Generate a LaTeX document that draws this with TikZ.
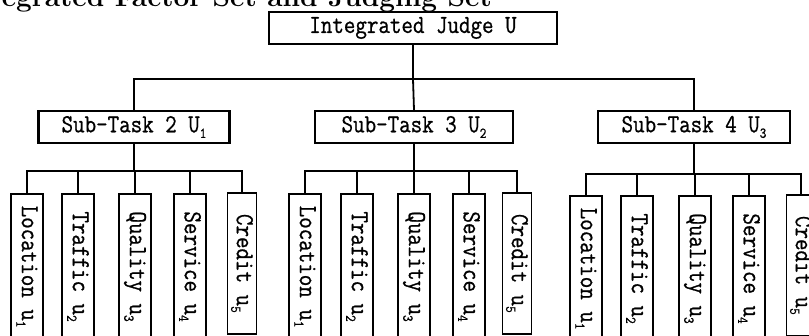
\documentclass[tikz,border=0pt]{standalone}
\usepackage{fontspec}
\newfontfamily\boxfont{Latin Modern Mono}[FakeStretch=0.86,FakeBold=0.8]
\newcommand\lsub[1]{\raisebox{-0.5ex}{\fontsize{15}{15}\selectfont #1}}
\begin{document}
\begin{tikzpicture}[x=1pt,y=-1pt,
  box/.style={draw,line width=2.2pt,inner sep=0pt,font=\boxfont\fontsize{26}{26}\selectfont},
  conn/.style={line width=1.8pt},
  leaf/.style={box,rotate=-90,minimum width=145,minimum height=32,anchor=west},
  credleaf/.style={leaf,minimum width=141,minimum height=29,line width=1.8pt}]
\useasboundingbox (0,0) rectangle (809,336);
\clip (0,0) rectangle (809,336);
\node[font=\bfseries\fontsize{28}{28}\selectfont,anchor=base east,inner sep=0pt] (title) at (492,7) {Integrated Factor Set and Judging Set};
\node[box,minimum width=288,minimum height=32] (T) at (413,28) {Integrated Judge U};
\node[box,minimum width=191,minimum height=32] (S1) at (134,127) {Sub-Task 2 U\lsub{1}};
\node[box,minimum width=198,minimum height=32] (S2) at (414,127) {Sub-Task 3 U\lsub{2}};
\node[box,minimum width=192,minimum height=32] (S3) at (694,127) {Sub-Task 4 U\lsub{3}};
\coordinate (b0) at (413,79);
\draw[conn] (T.south) -- (b0);
\draw[conn] (S1.north) |- (b0) -| (S3.north);
\draw[conn] (b0) -- (S2.north);
\foreach \g/\sx/\by/\ty/\xa/\xb/\xc/\xd/\xe in {1/134/171/193/27/78/135/190/242, 2/414/171/193/305/357/414/469/517, 3/694/174/195/586/637/695/749/801} {
  \node[leaf] (loc\g) at (\xa,\ty) {Location u\lsub{1}};
  \node[leaf] (tra\g) at (\xb,\ty) {Traffic u\lsub{2}};
  \node[leaf] (qua\g) at (\xc,\ty) {Quality u\lsub{3}};
  \node[leaf] (ser\g) at (\xd,\ty) {Service u\lsub{4}};
  \node[credleaf] (cre\g) at (\xe,\ty-1) {Credit u\lsub{5}};
  \coordinate (B\g) at (\sx,\by);
  \draw[conn] (S\g.south) -- (B\g);
  \draw[conn] (loc\g.west) |- (B\g) -| (cre\g.west);
  \draw[conn] (tra\g.west) -- (tra\g.west |- B\g);
  \draw[conn] (qua\g.west) -- (qua\g.west |- B\g);
  \draw[conn] (ser\g.west) -- (ser\g.west |- B\g);
}
\end{tikzpicture}
\end{document}
